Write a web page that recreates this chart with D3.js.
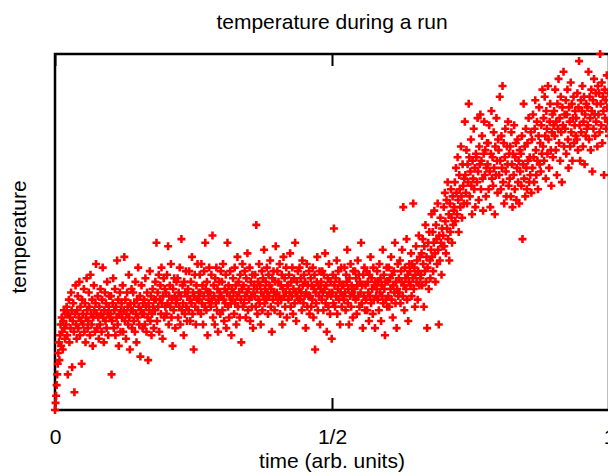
<!DOCTYPE html>
<html>
<head>
<meta charset="utf-8">
<script src="https://cdn.jsdelivr.net/npm/d3@7"></script>
<style>
  body { margin: 0; background: #fff; }
  text { font-family: "Liberation Sans", Arial, sans-serif; }
</style>
</head>
<body>
<div id="chart"></div>
<script>
// temperature readings, one per sample, in order (arbitrary units, 0 = bottom of frame, 100 = top)
const temperature = [
  0, 2, 4, 7, 10, 13, 16, 19, 14, 21, 24, 18, 26, 22, 17, 25, 28, 23, 20, 27,
  24, 29, 21, 10, 27, 31, 19, 26, 23, 33, 28, 12, 25, 30, 22, 5, 27, 35, 24, 20,
  28, 32, 23, 26, 36, 21, 29, 25, 13, 31, 27, 24, 34, 22, 30, 19, 26, 37, 28, 23,
  25, 33, 29, 21, 38, 27, 24, 31, 18, 26, 35, 28, 22, 30, 41, 27, 23, 32, 26, 20,
  29, 24, 34, 27, 22, 31, 40, 26, 19, 28, 33, 25, 30, 23, 36, 27, 21, 29, 32, 26,
  27, 32, 10, 25, 30, 37, 23, 28, 34, 21, 29, 26, 42, 24, 31, 18, 27, 33, 22, 28,
  30, 26, 35, 22, 28, 43, 25, 31, 20, 27, 33, 29, 24, 38, 26, 17, 30, 28, 34, 23,
  28, 33, 25, 30, 22, 36, 27, 19, 31, 26, 40, 29, 24, 32, 15, 28, 35, 27, 23, 30,
  27, 31, 24, 37, 29, 22, 33, 26, 14, 30, 28, 39, 25, 32, 21, 27, 34, 29, 23, 31,
  28, 36, 31, 47, 25, 33, 29, 38, 22, 31, 35, 27, 40, 30, 20, 32, 37, 26, 34, 29,
  33, 27, 38, 30, 46, 24, 32, 35, 29, 41, 26, 31, 18, 34, 28, 37, 32, 23, 30, 36,
  31, 37, 26, 33, 29, 40, 24, 32, 48, 28, 35, 30, 21, 36, 27, 33, 39, 29, 25, 32,
  34, 28, 39, 31, 25, 36, 30, 43, 27, 33, 17, 32, 38, 29, 24, 35, 31, 41, 28, 33,
  31, 38, 33, 27, 41, 30, 35, 24, 32, 39, 29, 47, 34, 28, 36, 21, 33, 31, 40, 30,
  33, 29, 38, 31, 49, 26, 35, 32, 24, 37, 30, 40, 28, 34, 22, 31, 36, 33, 27, 39,
  32, 36, 28, 41, 31, 25, 34, 30, 38, 23, 33, 47, 29, 35, 26, 32, 39, 30, 21, 34,
  31, 37, 33, 27, 40, 30, 35, 24, 32, 43, 29, 36, 33, 26, 38, 31, 19, 34, 41, 29,
  35, 30, 39, 32, 26, 37, 33, 44, 28, 34, 31, 40, 25, 36, 32, 29, 38, 23, 33, 35,
  32, 38, 29, 52, 34, 27, 36, 31, 41, 30, 35, 24, 33, 39, 28, 37, 32, 45, 30, 34,
  36, 31, 40, 33, 27, 38, 32, 35, 42, 29, 34, 22, 37, 31, 39, 33, 28, 36, 46, 32,
  33, 39, 30, 36, 32, 41, 27, 35, 31, 38, 24, 34, 43, 32, 37, 29, 33, 40, 26, 35,
  35, 31, 38, 33, 44, 29, 36, 32, 40, 27, 34, 37, 30, 47, 33, 25, 36, 32, 39, 31,
  34, 40, 31, 37, 33, 28, 42, 35, 30, 38, 32, 36, 23, 33, 41, 29, 35, 32, 39, 27,
  32, 37, 29, 35, 31, 40, 26, 34, 38, 17, 33, 30, 36, 43, 28, 35, 32, 39, 24, 34,
  36, 31, 39, 33, 28, 38, 34, 44, 30, 35, 22, 32, 37, 29, 41, 33, 27, 36, 32, 20,
  33, 38, 30, 51, 35, 29, 37, 32, 42, 27, 34, 39, 31, 36, 24, 33, 40, 29, 35, 32,
  35, 31, 40, 33, 28, 38, 36, 45, 30, 34, 24, 37, 32, 41, 29, 35, 33, 26, 39, 32,
  34, 39, 31, 37, 27, 35, 42, 32, 38, 29, 36, 33, 47, 30, 35, 23, 38, 32, 40, 28,
  35, 31, 39, 28, 36, 33, 25, 38, 32, 43, 30, 37, 34, 27, 40, 31, 35, 23, 36, 32,
  34, 39, 31, 36, 28, 41, 33, 37, 25, 35, 32, 45, 30, 38, 34, 21, 36, 31, 40, 29,
  36, 32, 40, 29, 37, 34, 43, 31, 38, 26, 35, 39, 33, 47, 30, 36, 23, 34, 41, 32,
  37, 33, 42, 30, 39, 36, 45, 32, 57, 35, 28, 40, 37, 34, 48, 31, 38, 25, 36, 41,
  39, 35, 44, 32, 41, 37, 58, 34, 40, 29, 38, 46, 36, 42, 31, 39, 49, 35, 43, 37,
  38, 44, 35, 48, 41, 29, 46, 39, 52, 36, 43, 23, 40, 47, 34, 50, 42, 37, 45, 55,
  43, 50, 39, 47, 56, 44, 36, 52, 48, 41, 58, 45, 24, 49, 42, 54, 47, 38, 51, 46,
  49, 57, 46, 61, 53, 44, 59, 51, 64, 48, 55, 42, 58, 50, 62, 54, 47, 60, 52, 56,
  57, 64, 53, 68, 61, 55, 71, 59, 50, 66, 62, 57, 74, 60, 54, 69, 63, 58, 65, 81,
  66, 61, 73, 58, 69, 64, 86, 71, 60, 67, 76, 63, 55, 70, 65, 79, 62, 68, 57, 72,
  71, 64, 82, 67, 59, 74, 69, 83, 62, 70, 77, 65, 56, 72, 81, 66, 73, 60, 68, 75,
  69, 75, 62, 80, 67, 57, 72, 84, 65, 71, 63, 78, 68, 55, 74, 66, 82, 70, 61, 76,
  73, 66, 88, 70, 62, 77, 68, 91, 64, 75, 58, 71, 79, 67, 60, 74, 69, 81, 63, 72,
  65, 74, 60, 78, 69, 57, 72, 66, 80, 62, 71, 75, 59, 68, 76, 64, 70, 58, 73, 67,
  72, 63, 77, 48, 69, 86, 65, 74, 60, 79, 68, 62, 75, 70, 82, 64, 71, 66, 78, 61,
  76, 68, 83, 71, 64, 79, 87, 73, 66, 81, 70, 62, 77, 85, 69, 75, 67, 80, 72, 90,
  74, 82, 70, 88, 77, 65, 84, 79, 72, 91, 76, 68, 81, 86, 73, 63, 78, 83, 71, 80,
  84, 77, 90, 73, 81, 66, 86, 79, 93, 75, 82, 70, 88, 78, 64, 85, 80, 95, 74, 83,
  79, 87, 72, 83, 90, 76, 68, 85, 81, 74, 92, 78, 86, 70, 82, 88, 75, 80, 84, 77,
  82, 76, 89, 73, 85, 98, 80, 70, 87, 78, 84, 91, 74, 81, 88, 69, 83, 77, 86, 79,
  85, 80, 95, 76, 88, 82, 73, 90, 84, 67, 87, 79, 93, 83, 77, 89, 81, 86, 74, 91,
  83, 89, 78, 100, 86, 80, 92, 75, 88, 84, 66, 90, 82, 87, 79, 94, 85, 81, 89, 77
];

// x ticks: positions as fraction of the run, and their labels
const tickFractions = [0, 0.5, 1];
const tickLabels = ["0", "1/2", "1"];

const width = 608, height = 473;
const margin = { top: 54, right: -1, bottom: 63, left: 55 };
const plotW = width - margin.left - margin.right;
const plotH = height - margin.top - margin.bottom;

const svg = d3.select("#chart")
  .append("svg")
  .attr("width", width)
  .attr("height", height);

const lastSample = temperature.length - 1;

const x = d3.scaleLinear()
  .domain([0, lastSample])
  .range([margin.left, margin.left + plotW]);

const y = d3.scaleLinear()
  .domain([0, 100])
  .range([margin.top + plotH, margin.top]);

// cadre
svg.append("rect")
  .attr("x", margin.left)
  .attr("y", margin.top)
  .attr("width", plotW)
  .attr("height", plotH)
  .attr("fill", "none")
  .attr("stroke", "#000")
  .attr("stroke-width", 2.5);

// ticks vers l'intérieur (bas + haut) et labels
const xAxis = d3.axisBottom(x)
  .tickValues(tickFractions.map(f => f * lastSample))
  .tickFormat((d, i) => tickLabels[i])
  .tickSizeInner(-12)
  .tickSizeOuter(0)
  .tickPadding(19);

const gx = svg.append("g")
  .attr("transform", "translate(0," + (margin.top + plotH) + ")")
  .call(xAxis);
gx.select(".domain").remove();
gx.selectAll("line").attr("stroke", "#000").attr("stroke-width", 2);
gx.selectAll("text")
  .attr("font-size", "21px")
  .attr("font-family", "Liberation Sans, Arial, sans-serif")
  .attr("fill", "#000");

const xTop = d3.axisTop(x)
  .tickValues(tickFractions.map(f => f * lastSample))
  .tickFormat("")
  .tickSizeInner(-12)
  .tickSizeOuter(0);

const gt = svg.append("g")
  .attr("transform", "translate(0," + margin.top + ")")
  .call(xTop);
gt.select(".domain").remove();
gt.selectAll("line").attr("stroke", "#000").attr("stroke-width", 2);

// points en forme de +
svg.append("g")
  .selectAll("path")
  .data(temperature)
  .enter()
  .append("path")
  .attr("transform", (d, i) => "translate(" + x(i) + "," + y(d) + ")")
  .attr("d", "M-4,0H4M0,-4V4")
  .attr("stroke", "#ff0000")
  .attr("stroke-width", 2.6)
  .attr("fill", "none");

// titres
svg.append("text")
  .attr("x", 332)
  .attr("y", 29)
  .attr("text-anchor", "middle")
  .attr("font-size", "21px")
  .text("temperature during a run");

svg.append("text")
  .attr("x", 332)
  .attr("y", 468)
  .attr("text-anchor", "middle")
  .attr("font-size", "21px")
  .text("time (arb. units)");

svg.append("text")
  .attr("transform", "translate(26,237) rotate(-90)")
  .attr("text-anchor", "middle")
  .attr("font-size", "21px")
  .text("temperature");
</script>
</body>
</html>
